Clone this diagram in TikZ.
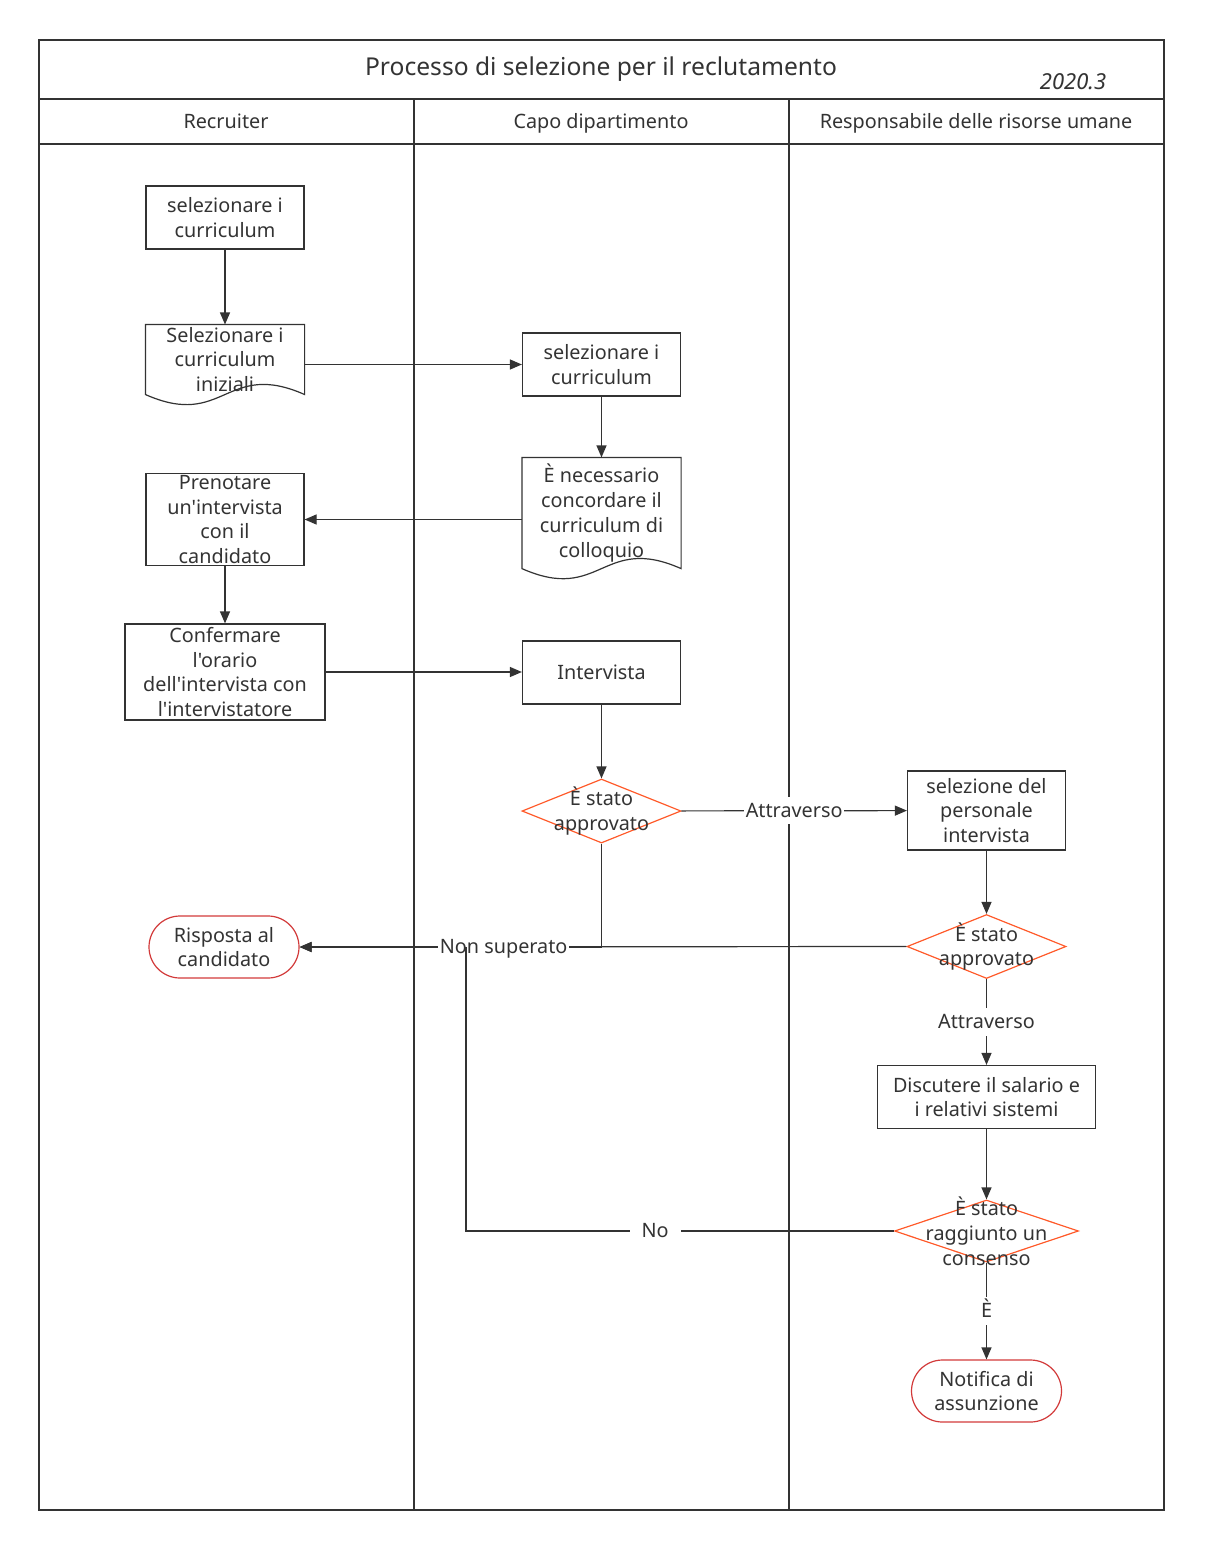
\documentclass[tikz,border=0pt]{standalone}
\usepackage{fontspec}
\setmainfont{Noto Sans}[Ligatures=TeXOff]
\usepackage{tikz}
\usepackage{xcolor}
\usetikzlibrary{shapes.geometric,arrows.meta}
\definecolor{ink}{HTML}{333333}
\definecolor{decide}{HTML}{FF5A2A}
\definecolor{term}{HTML}{D23A3A}

\begin{document}
\begin{tikzpicture}[x=0.5pt, y=-0.5pt, line width=0.6pt, draw=ink, text=ink,
    font=\fontsize{9.9}{12.4}\selectfont,
    box/.style={rectangle, draw=ink, align=center, inner sep=1pt, minimum width=79pt, minimum height=31.5pt},
    docbox/.style={rectangle, align=center, inner sep=1pt, minimum width=79pt},
    choice/.style={diamond, draw=decide, inner sep=0pt, minimum width=79.5pt, minimum height=32pt},
    endbox/.style={rectangle, rounded corners=15.5pt, draw=term, align=center, minimum width=75pt, minimum height=31pt},
    head/.style={text height=1.7ex, text depth=0.45ex},
    lbl/.style={fill=white, inner sep=1pt, text height=1.7ex, text depth=0.45ex},
    arr/.style={draw=ink, -{Triangle[length=6pt,width=5pt]}}]

    \useasboundingbox (0,0) rectangle (1230,1546);

    % Frame and lanes
    \draw (39,40) rectangle (1164,1510);
    \draw (39,99) -- (1164,99);
    \draw (39,144) -- (1164,144);
    \draw (414,99) -- (414,1510);
    \draw (789,99) -- (789,1510);
    \node[font=\fontsize{12.3}{15}\selectfont] (title) at (601,69) {Processo di selezione per il reclutamento};
    \node[font=\fontsize{11}{13}\selectfont\itshape] (date) at (1073,82) {2020.3};
    \node[head] (lane1) at (226,121.5) {Recruiter};
    \node[head] (lane2) at (601,121.5) {Capo dipartimento};
    \node[head] (lane3) at (976,121.5) {Responsabile delle risorse umane};

    % Recruiter
    \node[box] (sel1) at (225,217.5) {selezionare i\\curriculum};
    \node[docbox, minimum height=31.5pt] (ini) at (225,359.5) {Selezionare i\\curriculum\\iniziali};
    \node[box, minimum height=45.5pt] (book) at (225,519.5) {Prenotare\\un'intervista\\con il\\candidato};
    \node[box, minimum width=100pt, minimum height=48pt] (conf) at (225,672) {Confermare\\l'orario\\dell'intervista con\\l'intervistatore};
    \node[endbox] (reply) at (224,947) {Risposta al\\candidato};

    % Capo dipartimento
    \node[box] (sel2) at (601.5,364.5) {selezionare i\\curriculum};
    \node[docbox, minimum height=55pt] (agree) at (601.5,513) {È necessario\\concordare il\\curriculum di\\colloquio};
    \node[box] (intv) at (601.5,672.5) {Intervista};
    \node[choice, label={[align=center]center:È stato\\approvato}] (ok1) at (601.5,811) {};

    % Responsabile delle risorse umane
    \node[box, minimum height=39.5pt] (pers) at (986.5,810.5) {selezione del\\personale\\intervista};
    \node[choice, label={[align=center]center:È stato\\approvato}] (ok2) at (986.5,946.5) {};
    \node[box, minimum width=109pt] (wage) at (986.5,1097) {Discutere il salario e\\i relativi sistemi};
    \node[choice, minimum width=92pt, minimum height=31pt, label={[align=center]center:È stato\\raggiunto un\\consenso}] (deal) at (986.5,1231) {};
    \node[endbox] (hire) at (986.5,1391) {Notifica di\\assunzione};

    % document outlines
    \draw (ini.north west) -- (ini.north east) -- (ini.south east)
        .. controls +(-79,-35) and +(79,35) .. (ini.south west) -- cycle;
    \draw (agree.north west) -- (agree.north east) -- (agree.south east)
        .. controls +(-79,-35) and +(79,35) .. (agree.south west) -- cycle;

    \coordinate (join) at (466,947);

    \draw[arr] (sel1) -- (ini);
    \draw[arr] (ini.east |- sel2.west) -- (sel2.west);
    \draw[arr] (sel2) -- (agree);
    \draw[arr] (agree.west |- book.east) -- (book.east);
    \draw[arr] (book) -- (conf);
    \draw[arr] (conf.east) -- (conf.east -| intv.west);
    \draw[arr] (intv) -- (ok1);
    \draw[arr] (ok1) -- node[lbl] {Attraverso} (pers);
    \draw[arr] (pers) -- (ok2);
    \draw[arr] (ok2.west) -- (reply.east);
    \draw[arr] (ok1.south) |- node[lbl, pos=0.662] {Non superato} (reply.east);
    \draw[arr] (ok2) -- node[lbl] {Attraverso} (wage);
    \draw[arr] (wage) -- (deal);
    \draw (deal.west) -| node[lbl, pos=0.279, inner xsep=6pt] {No} (join);
    \draw[arr] (deal) -- node[lbl] {È} (hire);
\end{tikzpicture}
\end{document}
